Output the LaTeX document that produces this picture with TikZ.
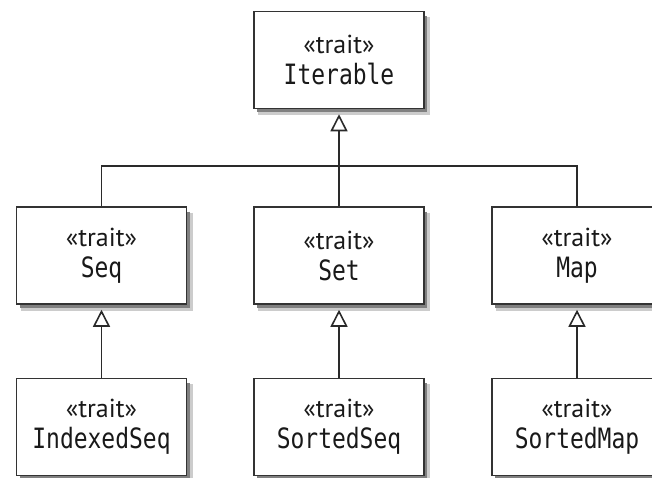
\documentclass[tikz,border=0pt]{standalone}
\usepackage{fontspec}
\usetikzlibrary{arrows.meta}
\newfontfamily\namefont[FakeStretch=0.82]{DejaVu Sans Mono}
\newfontfamily\traitfont{PT Sans}
\definecolor{boxline}{HTML}{333333}
\definecolor{conn}{HTML}{2A2A2A}
\definecolor{shadowa}{HTML}{CCCCCC}
\definecolor{shadowb}{HTML}{808080}
\newcommand{\boxshade}[2]{%
  \draw[shadowa, line width=6pt] (#1+88,#2-43) -- (#1+88,#2+52) -- (#1-81,#2+52);
  \draw[shadowb, line width=3pt] (#1+86.5,#2-44) -- (#1+86.5,#2+50.5) -- (#1-82,#2+50.5);}
\newcommand{\trt}[1]{{\traitfont «trait»}\\{\namefont\fontsize{28}{31}\selectfont #1}}
\tikzset{
  traitbox/.style={draw=boxline, line width=1.5pt, fill=white,
    minimum width=170pt, minimum height=97pt, inner sep=0pt,
    align=center, text=black!90, font=\fontsize{26}{31}\selectfont},
  conline/.style={draw=conn, line width=1.6pt},
  inh/.style={conline, -{Triangle[open, width=17pt, length=17pt, line width=1.6pt]}, shorten >=5pt}
}
\begin{document}
\begin{tikzpicture}[x=1pt,y=-1pt]
\useasboundingbox (0,0) rectangle (652,477);
\boxshade{339}{60}
\boxshade{101.5}{255.5}
\boxshade{339}{255.5}
\boxshade{577}{255.5}
\boxshade{101.5}{427}
\boxshade{339}{427}
\boxshade{577}{427}
\node[traitbox] (iter) at (339,60) {\trt{Iterable}};
\node[traitbox] (seq) at (101.5,255.5) {\trt{Seq}};
\node[traitbox] (set) at (339,255.5) {\trt{Set}};
\node[traitbox] (map) at (577,255.5) {\trt{Map}};
\node[traitbox] (idx) at (101.5,427) {\trt{IndexedSeq}};
\node[traitbox] (sseq) at (339,427) {\trt{SortedSeq}};
\node[traitbox] (smap) at (577,427) {\trt{SortedMap}};
\coordinate (bus) at (339,166);
\draw[conline] (seq.north) |- (bus) -| (map.north);
\draw[inh] (set.north) -- (iter.south);
\draw[inh] (idx.north) -- (seq.south);
\draw[inh] (sseq.north) -- (set.south);
\draw[inh] (smap.north) -- (map.south);
\end{tikzpicture}
\end{document}
